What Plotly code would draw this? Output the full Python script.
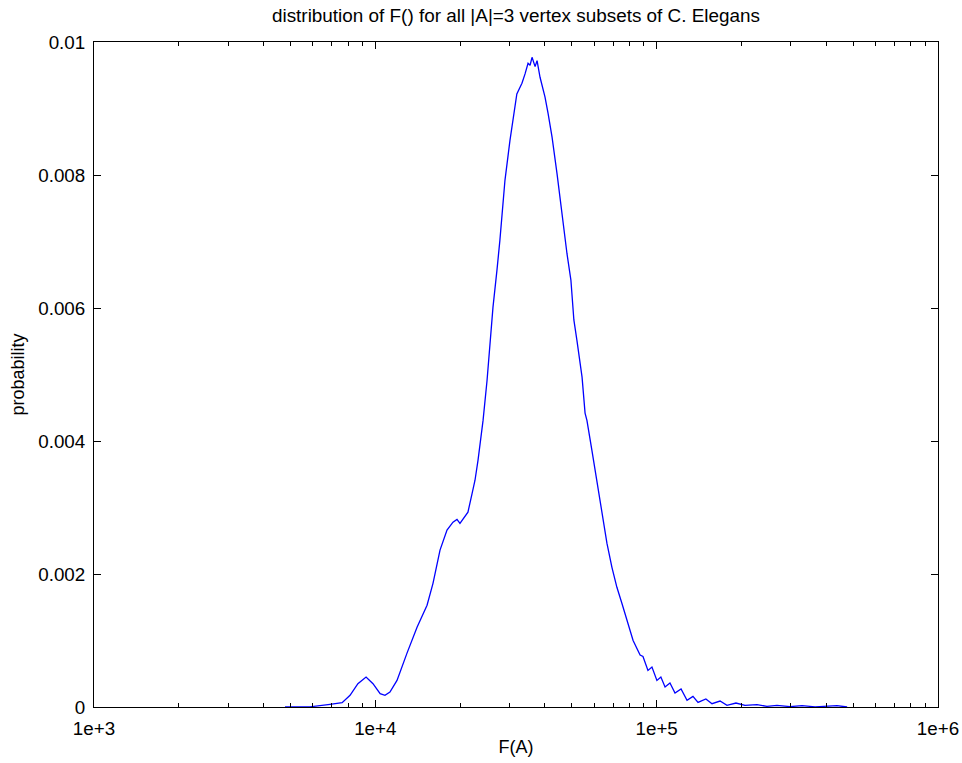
import plotly.graph_objects as go

# F(A) values (x, log scale) and probability (y)
f_values = [
    4775, 5860, 6900, 7620, 8130, 8670, 9270, 9810, 10400, 10820,
    11270, 11940, 12960, 14070, 15270, 16030, 16980, 17980, 18880, 19510,
    19990, 21340, 22070, 22610, 23170, 24150, 24950, 25580, 26190, 27060,
    27720, 28890, 30100, 31840, 33200, 34050, 34900, 35480, 36060, 36970,
    37570, 38500, 40100, 41100, 42480, 44240, 45320, 46450, 47990, 49560,
    50780, 52080, 54300, 55650, 56510, 58860, 61340, 63950, 66580, 69340,
    72220, 75220, 78340, 82450, 87320, 89400, 93120, 96210, 100200, 103500,
    107100, 111500, 116200, 122100, 128200, 134600, 140300, 149600, 157300, 168000,
    177800, 191400, 206000, 227300, 246600, 267700, 297800, 328600, 365600, 437600,
    475300,
]
probability = [
    0.0, 0.000003, 0.00004, 0.000066, 0.000176, 0.00035, 0.00045, 0.00035, 0.0002, 0.000176,
    0.000226, 0.0004, 0.00081, 0.0012, 0.00153, 0.00186, 0.00236, 0.00266, 0.00278, 0.00282,
    0.00276, 0.00293, 0.00321, 0.00341, 0.00371, 0.00431, 0.00491, 0.00547, 0.00601, 0.00657,
    0.00702, 0.00792, 0.00852, 0.00922, 0.00938, 0.00952, 0.00968, 0.00965, 0.00977, 0.00963,
    0.00972, 0.00947, 0.00917, 0.00893, 0.00857, 0.00802, 0.00766, 0.00732, 0.00682, 0.00642,
    0.00582, 0.00551, 0.00496, 0.00442, 0.00431, 0.00386, 0.00341, 0.00291, 0.00246, 0.0021,
    0.0018, 0.00156, 0.0013, 0.001, 0.00078, 0.00076, 0.00055, 0.0006, 0.0004, 0.00045,
    0.0003, 0.00036, 0.00021, 0.00027, 0.0001, 0.00016, 0.00007, 0.00012, 0.00005, 0.00009,
    0.000025, 0.00006, 0.000025, 0.000036, 0.00001, 0.000025, 0.000006, 0.00002, 0.000003, 0.00002,
    0.0,
]

x_tick_vals = [1e3, 1e4, 1e5, 1e6]
x_tick_text = ["1e+3", "1e+4", "1e+5", "1e+6"]
y_tick_vals = [0, 0.002, 0.004, 0.006, 0.008, 0.01]
y_tick_text = ["0", "0.002", "0.004", "0.006", "0.008", "0.01"]

title_text = "distribution of F() for all |A|=3 vertex subsets of C. Elegans"

font_family = "Liberation Sans, Arial, Helvetica, sans-serif"

fig = go.Figure()
fig.add_trace(go.Scatter(
    x=f_values, y=probability, mode="lines",
    line=dict(color="#0000ff", width=1.3),
    showlegend=False,
))

fig.update_layout(
    width=962, height=763,
    margin=dict(l=94, r=24, t=42, b=56),
    paper_bgcolor="white", plot_bgcolor="white",
    font=dict(family=font_family, size=18, color="black"),
    title=dict(text=title_text, xref="paper", x=0.5, xanchor="center",
               yref="container", y=0.980, yanchor="middle",
               font=dict(size=18.9, family=font_family, color="black")),
)

fig.update_xaxes(
    type="log", range=[3, 6], automargin=False,
    tickvals=x_tick_vals, ticktext=x_tick_text,
    ticks="inside", ticklen=7, tickwidth=1, tickcolor="black",
    showline=True, linecolor="black", linewidth=1, mirror="allticks",
    showgrid=False, zeroline=False,
    minor=dict(ticks="inside", ticklen=4, tickcolor="black", tickwidth=1,
               dtick="D1", showgrid=False),
    ticklabelstandoff=4,
    tickfont=dict(size=18.8),
    title=dict(text="F(A)", standoff=2, font=dict(size=18)),
)
fig.update_yaxes(
    range=[0, 0.01], automargin=False,
    tickvals=y_tick_vals, ticktext=y_tick_text,
    ticks="inside", ticklen=7, tickwidth=1, tickcolor="black",
    showline=True, linecolor="black", linewidth=1, mirror="allticks",
    showgrid=False, zeroline=False,
    ticklabelstandoff=4,
    tickfont=dict(size=18.8),
    title=dict(text="probability", standoff=8, font=dict(size=18)),
)

# remove the default page margin so the figure fills the window exactly
fig.write_html(
    "out.html",
    config={"displayModeBar": False},
    post_script="document.body.style.margin='0';document.body.style.overflow='hidden';",
)
